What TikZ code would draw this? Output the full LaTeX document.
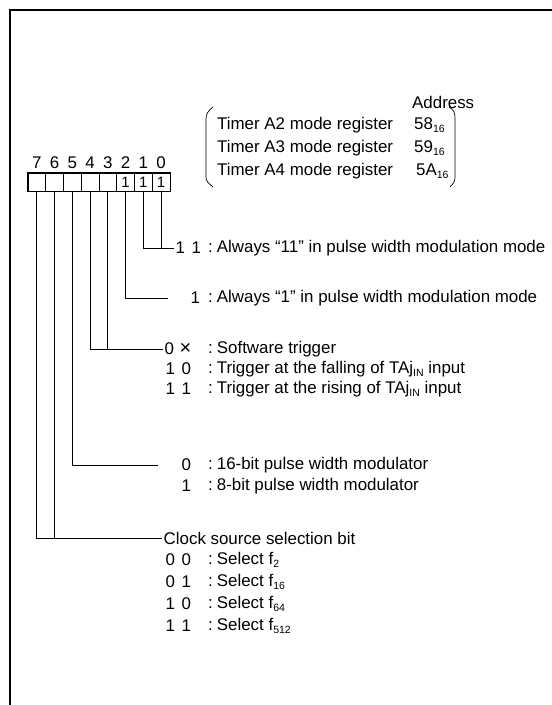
\documentclass[tikz,border=0pt]{standalone}
\usepackage{fontspec}
\setmainfont{Liberation Sans}
\newcommand\sbx[1]{\raisebox{-0.3ex}{\fontsize{10.5}{11}\selectfont #1}}
\newcommand\cdd[2]{#1\hspace{6.5pt}#2}
\begin{document}
\begin{tikzpicture}[x=1pt,y=-1pt,
  every node/.style={font=\fontsize{16.9}{19}\selectfont},
  cell/.style={draw,line width=0.8pt,minimum width=17.75pt,minimum height=18pt,inner sep=0pt},
  bitno/.style={inner sep=0pt},
  one/.style={inner sep=0pt,font=\fontsize{15}{16}\selectfont},
  code/.style={anchor=west,inner sep=1.5pt},
  desc/.style={anchor=west,inner sep=0pt},
  conn/.style={line width=0.8pt},
  frame/.style={line width=1.8pt},
  brace/.style={line width=0.7pt}]
\useasboundingbox (0,0) rectangle (552,705);
% outer frame
\draw[frame] (552,10) -- (10,10) -- (10,705);

% address table
\node[desc] (addr) at (412,102) {Address};
\node[desc] (r2) at (217,125) {Timer A2 mode register};
\node[desc] (r3) at (217,148) {Timer A3 mode register};
\node[desc] (r4) at (217,171) {Timer A4 mode register};
\node[desc] (v2) at (414,125) {58\sbx{16}};
\node[desc] (v3) at (414,148) {59\sbx{16}};
\node[desc] (v4) at (416,171) {5A\sbx{16}};
\draw[brace] (213,107) .. controls (208,111) and (206,114) .. (206,119) -- (206,177) .. controls (206,181) and (208,183) .. (213,187);
\draw[brace] (449,107) .. controls (454,110) and (455,113) .. (455,118) -- (455,177) .. controls (455,181) and (454,183) .. (450,187);

% register cells
\foreach \i in {0,...,7}{
  \node[cell] (b\i) at ({28+(7-\i)*17.75+8.875},182) {};
  \node[bitno] (n\i) at ({28+(7-\i)*17.75+8.875},163) {\i};
}
\node[one] at (b2) {1};
\node[one] at (b1) {1};
\node[one] at (b0) {1};
\draw[line width=1.8pt] (b7.north west) rectangle (b0.south east);

% bits 1,0
\node[code] (cA) at (174,248) {\cdd{1}{1}};
\node[desc] (dA) at (208,248) {:\hspace{4pt}Always “11” in pulse width modulation mode};
\draw[conn] (b1.south) |- (cA.west);
\draw[conn] (b0.south) -- (b0.south |- cA.west);

% bit 2
\node[code] (cB) at (189,298) {1};
\node[desc] (dB) at (208,298) {:\hspace{4pt}Always “1” in pulse width modulation mode};
\coordinate (eB) at (168,298);
\draw[conn] (b2.south) |- (eB);

% bits 4,3
\node[code] (cC1) at (163,349) {0\hspace{5.5pt}{\fontsize{20}{20}\selectfont ×}};
\node[desc] (dC1) at (208,349) {:\hspace{4pt}Software trigger};
\node[code] (cC2) at (164,369) {\cdd{1}{0}};
\node[desc] (dC2) at (208,369) {:\hspace{4pt}Trigger at the falling of TAj\sbx{IN} input};
\node[code] (cC3) at (164,389) {\cdd{1}{1}};
\node[desc] (dC3) at (208,389) {:\hspace{4pt}Trigger at the rising of TAj\sbx{IN} input};
\draw[conn] (b4.south) |- (cC1.west);
\draw[conn] (b3.south) -- (b3.south |- cC1.west);

% bit 5
\node[code] (cD1) at (180,465) {0};
\node[desc] (dD1) at (208,465) {:\hspace{4pt}16-bit pulse width modulator};
\node[code] (cD2) at (180,486) {1};
\node[desc] (dD2) at (208,486) {:\hspace{4pt}8-bit pulse width modulator};
\coordinate (eD) at (158,465);
\draw[conn] (b5.south) |- (eD);

% bits 7,6
\node[code] (cE) at (162,538) {Clock source selection bit};
\draw[conn] (b7.south) |- (cE.west);
\draw[conn] (b6.south) -- (b6.south |- cE.west);
\node[code] (cE1) at (164,560) {\cdd{0}{0}};
\node[desc] (dE1) at (208,560) {:\hspace{4pt}Select f\sbx{2}};
\node[code] (cE2) at (164,582) {\cdd{0}{1}};
\node[desc] (dE2) at (208,582) {:\hspace{4pt}Select f\sbx{16}};
\node[code] (cE3) at (164,604) {\cdd{1}{0}};
\node[desc] (dE3) at (208,604) {:\hspace{4pt}Select f\sbx{64}};
\node[code] (cE4) at (164,626) {\cdd{1}{1}};
\node[desc] (dE4) at (208,626) {:\hspace{4pt}Select f\sbx{512}};
\end{tikzpicture}
\end{document}
